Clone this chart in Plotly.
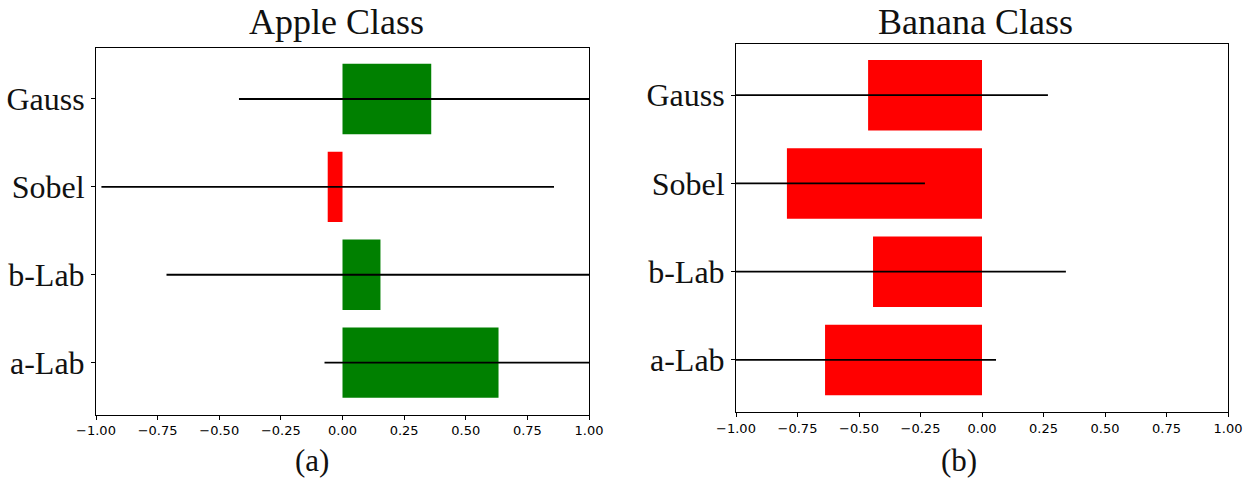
import plotly.graph_objects as go

# Feature names, bottom to top
features = ["a-Lab", "b-Lab", "Sobel", "Gauss"]

# Apple class: mean contribution and spread per feature
apple_values = [0.633, 0.154, -0.060, 0.360]
apple_errors = [0.706, 0.868, 0.918, 0.780]

# Banana class: mean contribution and spread per feature
banana_values = [-0.638, -0.443, -0.793, -0.463]
banana_errors = [0.695, 0.784, 0.561, 0.731]

tick_values = [-1.0, -0.75, -0.5, -0.25, 0.0, 0.25, 0.5, 0.75, 1.0]
tick_labels = [f"{v:.2f}".replace("-", "\u2212") for v in tick_values]

GREEN = "#008000"
RED = "#ff0000"
W, H = 1252, 478


def bar_colors(vals):
    return [GREEN if v >= 0 else RED for v in vals]


fig = go.Figure()

fig.add_trace(go.Bar(
    x=apple_values, y=features, orientation="h", width=0.8,
    marker=dict(color=bar_colors(apple_values), line=dict(width=0)),
    error_x=dict(type="data", array=apple_errors, symmetric=True,
                 color="black", thickness=1.8, width=0),
    xaxis="x", yaxis="y", showlegend=False,
))

fig.add_trace(go.Bar(
    x=banana_values, y=features, orientation="h", width=0.8,
    marker=dict(color=bar_colors(banana_values), line=dict(width=0)),
    error_x=dict(type="data", array=banana_errors, symmetric=True,
                 color="black", thickness=1.8, width=0),
    xaxis="x2", yaxis="y2", showlegend=False,
))

xcommon = dict(
    range=[-1, 1], tickmode="array", tickvals=tick_values, ticktext=tick_labels,
    ticks="outside", ticklen=4, tickwidth=1, tickcolor="black",
    showline=True, linecolor="black", linewidth=1, mirror=True,
    showgrid=False, zeroline=False, fixedrange=True, automargin=False,
    tickfont=dict(family="DejaVu Sans", size=13, color="black"),
)
ycommon = dict(
    type="category", categoryorder="array", categoryarray=features,
    range=[-0.59, 3.58],
    ticks="outside", ticklen=4, tickwidth=1, tickcolor="black",
    showline=True, linecolor="black", linewidth=1, mirror=True,
    showgrid=False, zeroline=False, fixedrange=True, automargin=False,
    tickfont=dict(family="Liberation Serif", size=32, color="#111111"),
)


def px_x(p):
    return p / W


def px_y(p):
    return 1 - p / H


fig.update_layout(
    width=W, height=H,
    margin=dict(l=0, r=0, t=0, b=0, autoexpand=False),
    paper_bgcolor="white", plot_bgcolor="white",
    xaxis=dict(xcommon, domain=[px_x(96), px_x(589)], anchor="y"),
    yaxis=dict(ycommon, domain=[px_y(414.5), px_y(48)], anchor="x"),
    xaxis2=dict(xcommon, domain=[px_x(736), px_x(1228)], anchor="y2"),
    yaxis2=dict(ycommon, domain=[px_y(412), px_y(44)], anchor="x2"),
    bargap=0.2,
)

serif = "Liberation Serif"
annotations = [
    ("Apple Class", 336, 22, 36),
    ("Banana Class", 975, 22, 36),
    ("(a)", 312, 460, 31),
    ("(b)", 959, 460, 31),
]
for text, x, y, size in annotations:
    fig.add_annotation(
        text=text, x=px_x(x), y=px_y(y), xref="paper", yref="paper",
        xanchor="center", yanchor="middle", showarrow=False,
        font=dict(family=serif, size=size, color="#111111"),
    )

fig.write_html("out.html")
